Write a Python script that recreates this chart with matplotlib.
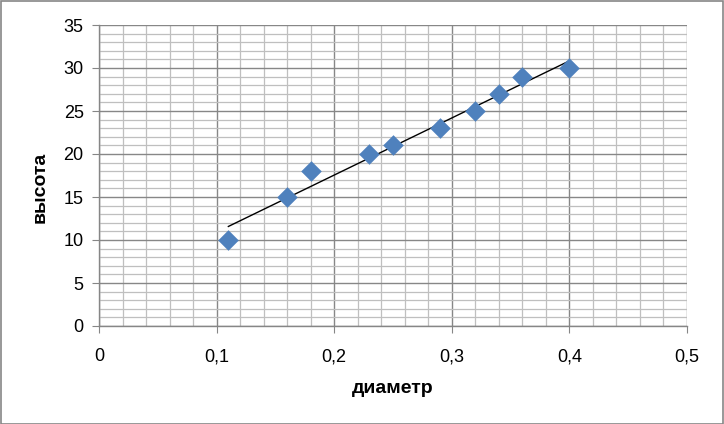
import numpy as np
import matplotlib.pyplot as plt
from matplotlib.patches import Rectangle
from matplotlib.ticker import MultipleLocator, FuncFormatter

# diameter / height measurements
diameter = [0.11, 0.16, 0.18, 0.23, 0.25, 0.29, 0.32, 0.34, 0.36, 0.40]
height = [10, 15, 18, 20, 21, 23, 25, 27, 29, 30]

x_label = 'диаметр'
y_label = 'высота'

plt.rcParams['font.family'] = ['Liberation Sans Narrow', 'Liberation Sans', 'DejaVu Sans']

fig = plt.figure(figsize=(7.24, 4.24), dpi=100)
ax = fig.add_axes([99/724, 1 - 326/424, 588/724, 301/424])

ax.set_xlim(0, 0.5)
ax.set_ylim(0, 35)
ax.xaxis.set_major_locator(MultipleLocator(0.1))
ax.xaxis.set_minor_locator(MultipleLocator(0.02))
ax.yaxis.set_major_locator(MultipleLocator(5))
ax.yaxis.set_minor_locator(MultipleLocator(1))
ax.xaxis.set_major_formatter(FuncFormatter(lambda v, p: ('%g' % round(v, 2)).replace('.', ',')))

ax.grid(which='major', color='#878787', linewidth=1.0)
ax.grid(which='minor', color='#BFBFBF', linewidth=0.9)
ax.set_axisbelow(True)

for s in ['top', 'right']:
    ax.spines[s].set_visible(False)
for s in ['left', 'bottom']:
    ax.spines[s].set_color('#868686')
    ax.spines[s].set_linewidth(1.0)

ax.tick_params(which='major', direction='out', length=5, color='#868686', labelsize=13, pad=6)
ax.tick_params(which='minor', length=0)
ax.tick_params(axis='x', pad=11)

# linear trendline
k, b = np.polyfit(diameter, height, 1)
xs = np.array([min(diameter), max(diameter)])
ax.plot(xs, k * xs + b, color='black', linewidth=1.0, zorder=3)

ax.scatter(diameter, height, marker='D', s=110, color='#4F81BD', zorder=4, linewidths=0)

ax.set_xlabel(x_label, fontsize=14, fontweight='bold')
ax.set_ylabel(y_label, fontsize=14, fontweight='bold')
ax.xaxis.set_label_coords(0.5, -0.18)
ax.yaxis.set_label_coords(-0.085, 0.46)

fig.patches.append(Rectangle((0.5/724, 0.5/424), 1 - 1.5/724, 1 - 1.5/424, transform=fig.transFigure,
                             fill=False, edgecolor='#868686', linewidth=1.2))

fig.savefig('out.png', dpi=100)
